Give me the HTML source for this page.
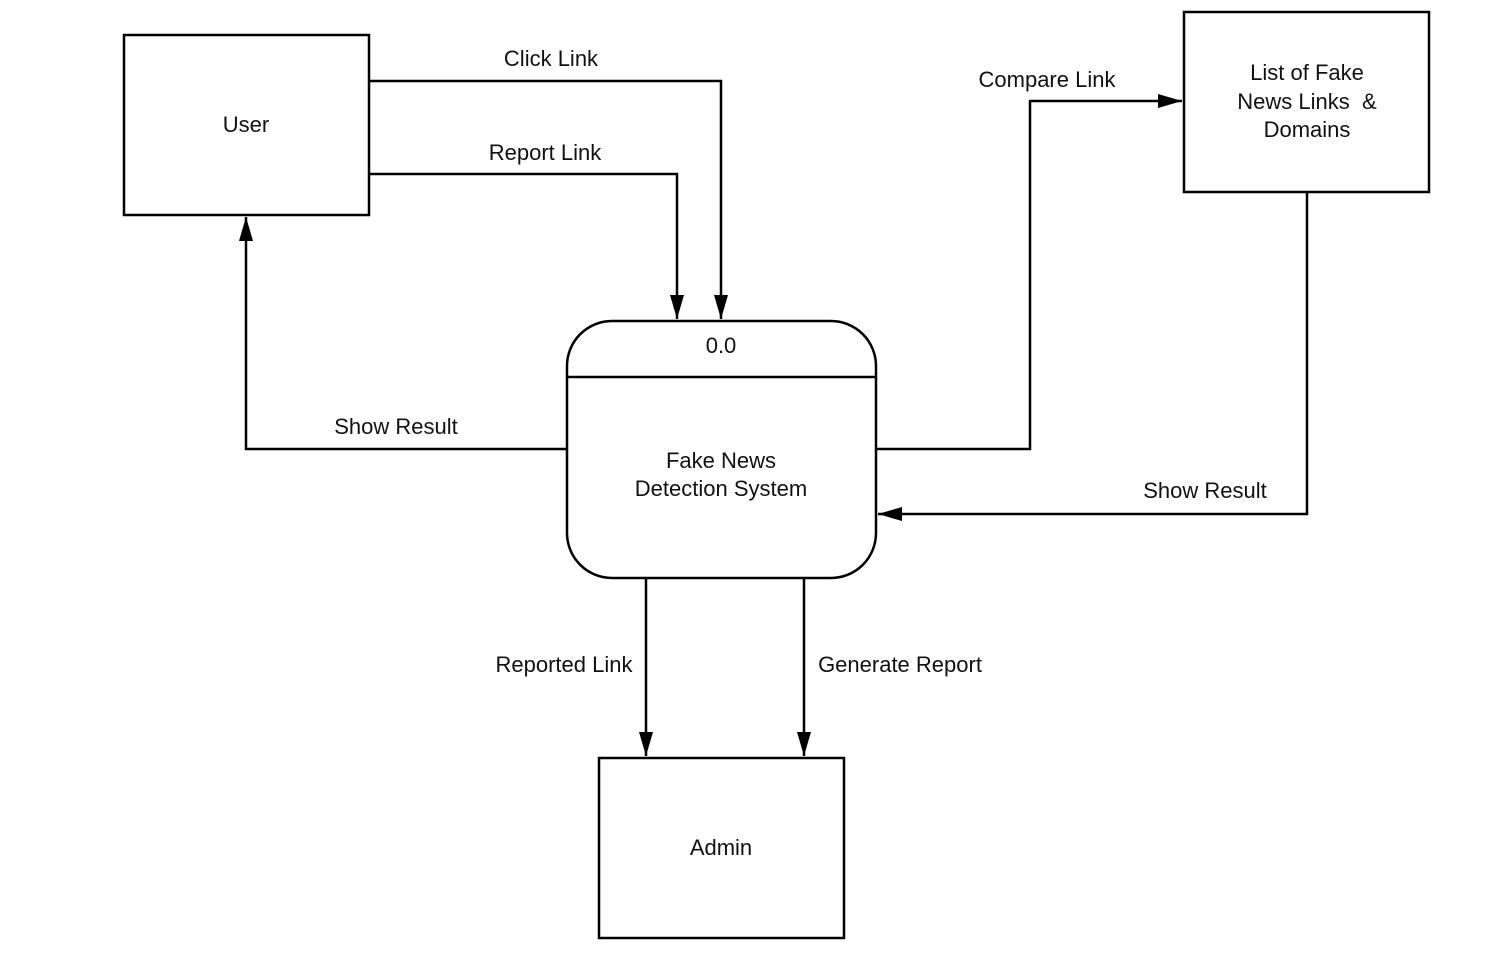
<!DOCTYPE html>
<html><head><style>body{margin:0;background:#fff}svg{display:block}</style></head><body>
<svg width="1495" height="954" viewBox="0 0 1495 954" xmlns="http://www.w3.org/2000/svg" font-family="Liberation Sans, sans-serif" font-size="22" fill="#111">
<defs>
<marker id="b" markerWidth="24" markerHeight="14" refX="24" refY="7" orient="auto" markerUnits="userSpaceOnUse"><path d="M0,0 L24,7 L0,14 z" fill="#000"/></marker></defs>
<g stroke="#000" stroke-width="2.5" fill="none">
<rect x="124" y="35" width="245" height="180"/>
<rect x="1184" y="12" width="245" height="180"/>
<rect x="599" y="758" width="245" height="180"/>
<rect x="567" y="321" width="309" height="257" rx="45"/>
<line x1="567" y1="377" x2="876" y2="377"/>
<polyline points="369,81 721,81 721,319" marker-end="url(#b)"/>
<polyline points="369,174 677,174 677,319" marker-end="url(#b)"/>
<polyline points="567,449 246,449 246,217" marker-end="url(#b)"/>
<polyline points="876,449 1030,449 1030,101 1182,101" marker-end="url(#b)"/>
<polyline points="1307,192 1307,514 878,514" marker-end="url(#b)"/>
<polyline points="646,578 646,756" marker-end="url(#b)"/>
<polyline points="804,578 804,756" marker-end="url(#b)"/>
</g>
<g text-anchor="middle">
<text x="246" y="132">User</text>
<text x="721" y="855">Admin</text>
<text x="1307" y="80">List of Fake</text>
<text x="1307" y="109" xml:space="preserve">News Links  &amp;</text>
<text x="1307" y="137">Domains</text>
<text x="721" y="353">0.0</text>
<text x="721" y="468">Fake News</text>
<text x="721" y="496">Detection System</text>
<text x="551" y="66">Click Link</text>
<text x="545" y="160">Report Link</text>
<text x="396" y="434">Show Result</text>
<text x="1047" y="87">Compare Link</text>
<text x="1205" y="498">Show Result</text>
<text x="564" y="672">Reported Link</text>
<text x="900" y="672">Generate Report</text>
</g>
</svg>
</body></html>
